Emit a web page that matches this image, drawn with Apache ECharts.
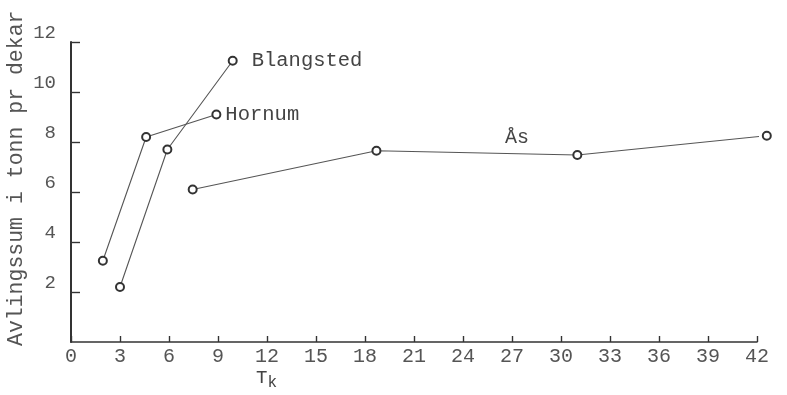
<!DOCTYPE html>
<html><head><meta charset="utf-8">
<script src="https://cdn.jsdelivr.net/npm/echarts@6/dist/echarts.min.js"></script>
<style>html,body{margin:0;padding:0;background:#fff}#c{width:787px;height:395px}</style>
</head><body><div id="c"></div>
<script>
const xTicks = [0,3,6,9,12,15,18,21,24,27,30,33,36,39,42];
const blangstedX = [3.0, 5.9, 9.9];
const blangstedY = [2.2, 7.7, 11.25];
const hornumX = [1.95, 4.6, 8.9];
const hornumY = [3.25, 8.2, 9.1];
const asX = [7.45, 18.7, 31.0, 42.6];
const asY = [6.1, 7.65, 7.48, 8.25];
const seriesNames = ['Blangsted', 'Hornum', 'Ås'];
const yTitle = 'Avlingssum i tonn pr dekar';

const font = 'Liberation Mono';
const ink = '#444';
function pts(xs, ys, labelLast, dist) {
  return xs.map((x, i) => {
    const d = { value: [x, ys[i]] };
    if (labelLast && i === xs.length - 1) {
      d.label = { show: true, position: 'right', distance: dist, formatter: labelLast,
        fontFamily: font, fontSize: 20.5, color: ink };
    }
    return d;
  });
}
function line(name, data) {
  return { name, type: 'line', data, symbol: 'emptyCircle', symbolSize: 8, clip: false,
    lineStyle: { color: '#555', width: 1.1 },
    itemStyle: { color: '#333', borderColor: '#333', borderWidth: 1.6 },
    emphasis: { disabled: true }, animation: false };
}
const chart = echarts.init(document.getElementById('c'));
const asSeries = line(seriesNames[2], pts(asX, asY));
asSeries.markPoint = { symbol: 'circle', symbolSize: 1, itemStyle: { color: 'rgba(0,0,0,0)' },
  silent: true, animation: false,
  data: [{ coord: [27.3, 7.6], label: { show: true, formatter: seriesNames[2], position: 'top', distance: 4,
    fontFamily: font, fontSize: 20, color: ink } }] };
chart.setOption({
  backgroundColor: '#ffffff',
  animation: false,
  grid: { left: 71, right: 30, top: 42, bottom: 53 },
  xAxis: { type: 'value', min: 0, max: 42, interval: 3,
    axisLine: { show: true, onZero: false, lineStyle: { color: '#333', width: 1.6 } },
    axisTick: { show: true, inside: true, length: 6, lineStyle: { color: '#333', width: 1.4 } },
    axisLabel: { margin: 5, fontFamily: font, fontSize: 20, color: '#555',
      formatter: v => xTicks.includes(v) ? String(v) : '' },
    splitLine: { show: false } },
  yAxis: { type: 'value', min: 0, max: 12, interval: 2,
    axisLine: { show: true, lineStyle: { color: '#333', width: 2 } },
    axisTick: { show: true, inside: true, length: 9, lineStyle: { color: '#333', width: 1.4 } },
    axisLabel: { margin: 15, fontFamily: font, fontSize: 19, color: '#555', verticalAlign: 'bottom',
      showMinLabel: false, formatter: v => v === 0 ? '' : String(v) },
    splitLine: { show: false } },
  graphic: [
    { type: 'text', left: 256, top: 368, silent: true,
      style: { text: '{a|T}{b|k}', rich: { a: { fontFamily: font, fontSize: 19, fill: ink },
        b: { fontFamily: font, fontSize: 16, fill: ink, padding: [10, 0, 0, 0] } } } },
    { type: 'text', x: 5, y: 346, rotation: Math.PI / 2, silent: true,
      style: { text: yTitle, fontFamily: font, fontSize: 21.5, fill: '#555', textVerticalAlign: 'top' } }
  ],
  series: [
    line(seriesNames[0], pts(blangstedX, blangstedY, seriesNames[0], 14)),
    line(seriesNames[1], pts(hornumX, hornumY, seriesNames[1], 4)),
    asSeries
  ]
});
</script></body></html>
